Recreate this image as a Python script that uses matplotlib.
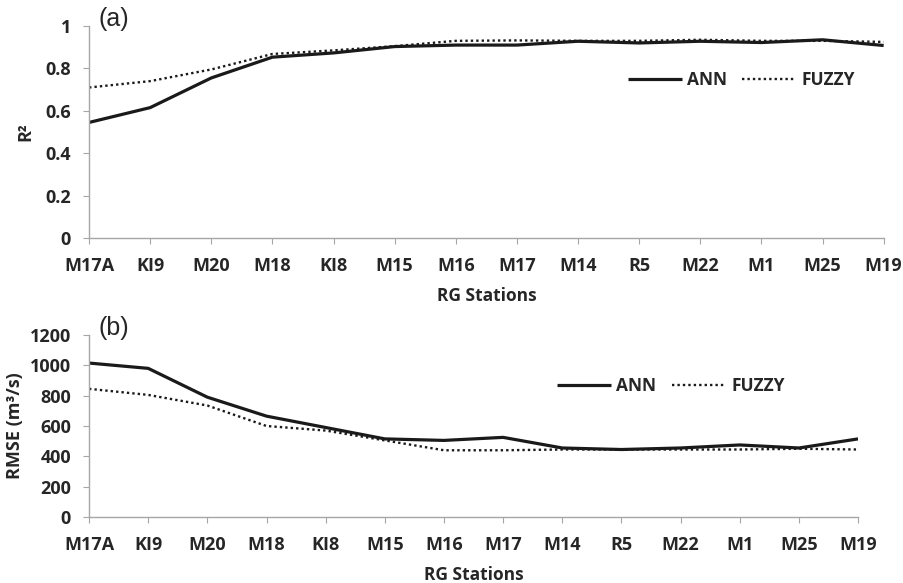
import matplotlib
matplotlib.use("Agg")
import matplotlib.pyplot as plt

stations = ["M17A", "KI9", "M20", "M18", "KI8", "M15", "M16", "M17", "M14", "R5", "M22", "M1", "M25", "M19"]
r2_ann = [0.545, 0.615, 0.755, 0.853, 0.873, 0.903, 0.910, 0.910, 0.928, 0.920, 0.928, 0.922, 0.935, 0.908]
r2_fuzzy = [0.710, 0.740, 0.795, 0.868, 0.885, 0.905, 0.930, 0.932, 0.930, 0.930, 0.935, 0.930, 0.930, 0.925]
rmse_ann = [1015, 980, 790, 665, 590, 515, 505, 525, 455, 445, 455, 475, 455, 515]
rmse_fuzzy = [845, 805, 735, 600, 570, 505, 440, 440, 445, 445, 445, 445, 450, 445]
r2_ticks = [0, 0.2, 0.4, 0.6, 0.8, 1]
r2_ticklabels = ["0", "0.2", "0.4", "0.6", "0.8", "1"]
rmse_ticks = [0, 200, 400, 600, 800, 1000, 1200]

FONT = ["Open Sans", "DejaVu Sans"]
TXT = "#262626"
FS = 13

fig = plt.figure(figsize=(9.04, 5.83), dpi=100)
ax1 = fig.add_axes([0.0985, 0.5918, 0.879, 0.3636])
ax2 = fig.add_axes([0.0985, 0.1132, 0.8507, 0.3122])

x = list(range(len(stations)))
gray = "#a6a6a6"

def style(ax):
    for s in ["top", "right"]:
        ax.spines[s].set_visible(False)
    for s in ["left", "bottom"]:
        ax.spines[s].set_color(gray)
        ax.spines[s].set_linewidth(1.0)
    ax.set_xlim(0, len(stations) - 1)
    ax.set_xticks(x)
    ax.set_xticklabels(stations, fontfamily=FONT, fontweight="bold", fontsize=FS, color=TXT)
    ax.tick_params(axis="x", length=4, color=gray, pad=10)
    ax.tick_params(axis="y", length=4, color=gray, pad=9)
    for lab in ax.get_yticklabels():
        lab.set_fontfamily(FONT); lab.set_fontweight("bold"); lab.set_fontsize(FS); lab.set_color(TXT)
    ax.set_xlabel("RG Stations", fontfamily=FONT, fontweight="bold", fontsize=12.5, color=TXT, labelpad=8)

def legend(ax, anchor):
    ax.legend(loc="center left", bbox_to_anchor=anchor, ncol=2, frameon=False, borderpad=0,
              borderaxespad=0, prop={"family": FONT, "weight": "bold", "size": 12.5},
              handlelength=3.1, handletextpad=0.3, columnspacing=0.9, labelcolor=TXT)

ann_kw = dict(color="#1a1a1a", lw=2.3, solid_capstyle="butt", solid_joinstyle="round", label="ANN")
fz_kw = dict(color="#1a1a1a", lw=1.7, linestyle=(0, (1, 1.3)), label="FUZZY")

ax1.plot(x, r2_ann, **ann_kw)
ax1.plot(x, r2_fuzzy, **fz_kw)
ax1.set_ylim(0, 1)
ax1.set_yticks(r2_ticks)
ax1.set_yticklabels(r2_ticklabels)
style(ax1)
ax1.set_ylabel("R²", fontfamily=FONT, fontweight="bold", fontsize=FS, color=TXT, labelpad=8)
ax1.text(0.012, 1.035, "(a)", transform=ax1.transAxes, fontsize=18, fontfamily="Liberation Sans",
         va="center", ha="left", color=TXT)
legend(ax1, (0.678, 0.745))

ax2.plot(x, rmse_ann, **ann_kw)
ax2.plot(x, rmse_fuzzy, **fz_kw)
ax2.set_ylim(0, 1200)
ax2.set_yticks(rmse_ticks)
style(ax2)
ax2.set_ylabel("RMSE (m³/s)", fontfamily=FONT, fontweight="bold", fontsize=13, color=TXT, labelpad=4)
ax2.text(0.012, 1.04, "(b)", transform=ax2.transAxes, fontsize=18, fontfamily="Liberation Sans",
         va="center", ha="left", color=TXT)
legend(ax2, (0.609, 0.72))

fig.savefig("out.png", dpi=100, facecolor="white")
